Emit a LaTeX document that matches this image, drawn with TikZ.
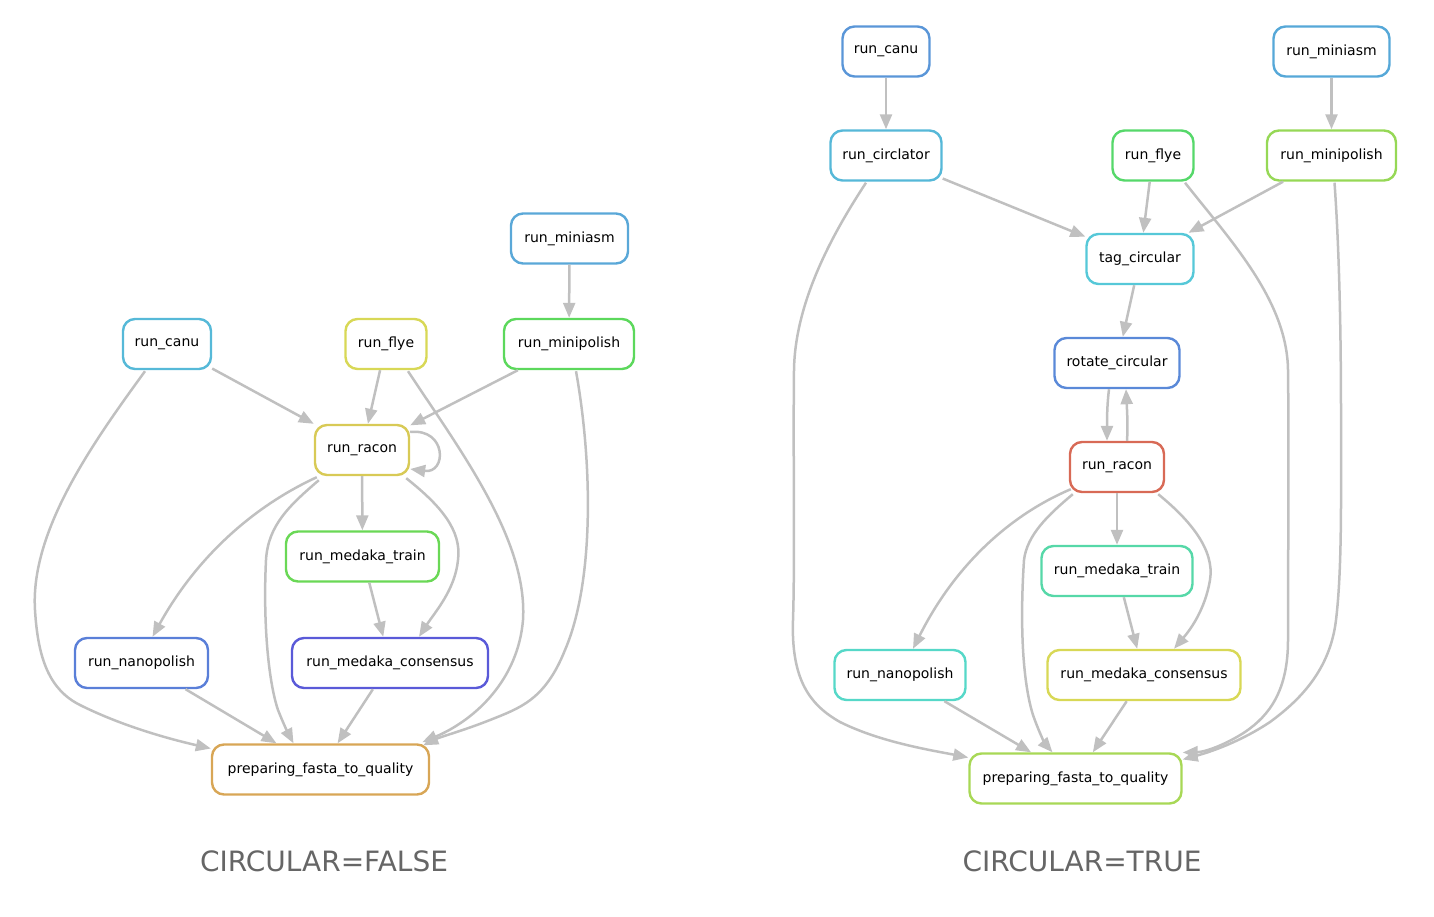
\documentclass[tikz,border=0pt]{standalone}
\usepackage{fontspec}
\setmainfont{DejaVu Sans}
\usetikzlibrary{arrows.meta,calc}
\definecolor{edgegray}{HTML}{C0C0C0}
\definecolor{titlegray}{HTML}{666666}
\definecolor{cA}{HTML}{5AA8D8}
\definecolor{cB}{HTML}{56B9D8}
\definecolor{cC}{HTML}{D8D856}
\definecolor{cD}{HTML}{5CD85C}
\definecolor{cE}{HTML}{D8CA56}
\definecolor{cF}{HTML}{6AD856}
\definecolor{cG}{HTML}{5A7FD8}
\definecolor{cH}{HTML}{5A5AD8}
\definecolor{cI}{HTML}{D8A656}
\definecolor{rA}{HTML}{5A96D8}
\definecolor{rB}{HTML}{56A8D8}
\definecolor{rC}{HTML}{56B8D8}
\definecolor{rD}{HTML}{56D86A}
\definecolor{rE}{HTML}{96D856}
\definecolor{rF}{HTML}{56C8D8}
\definecolor{rG}{HTML}{5A89D8}
\definecolor{rH}{HTML}{D86A56}
\definecolor{rI}{HTML}{56D8A8}
\definecolor{rJ}{HTML}{56D8C8}
\definecolor{rK}{HTML}{D8D856}
\definecolor{rL}{HTML}{A8D856}
\tikzset{
  box/.style={draw, line width=2.4pt, rounded corners=12pt, fill=white,
    minimum height=50pt, inner xsep=0pt, inner ysep=0pt,
    font=\fontsize{14}{16}\selectfont, text=black},
  edge/.style={draw=edgegray, line width=2.5pt, -{Triangle[length=15pt,width=12pt]}},
  title/.style={font=\fontsize{28}{32}\selectfont, text=titlegray}
}
\begin{document}
\begin{tikzpicture}[x=1pt,y=-1pt]
\useasboundingbox (0,0) rectangle (1434,917);
% ---------- left graph ----------
\node[box, draw=cA, minimum width=117pt] (lminiasm) at (569.5,238.5) {run\_miniasm};
\node[box, draw=cB, minimum width=88pt] (lcanu) at (167,344) {run\_canu};
\node[box, draw=cC, minimum width=81pt] (lflye) at (386,344) {run\_flye};
\node[box, draw=cD, minimum width=130pt] (lminipolish) at (569,344) {run\_minipolish};
\node[box, draw=cE, minimum width=94pt] (lracon) at (362,450) {run\_racon};
\node[box, draw=cF, minimum width=153pt] (lmtrain) at (362.5,556.5) {run\_medaka\_train};
\node[box, draw=cG, minimum width=133pt] (lnano) at (141.5,663) {run\_nanopolish};
\node[box, draw=cH, minimum width=196pt] (lcons) at (390,663) {run\_medaka\_consensus};
\node[box, draw=cI, minimum width=217pt] (lprep) at (320.5,769.5) {preparing\_fasta\_to\_quality};
\node[title] (ltitle) at (324,861) {CIRCULAR=FALSE};

\draw[edge] (lminiasm) -- (lminipolish);
\draw[edge] (lcanu) -- (lracon);
\draw[edge] (lflye) -- (lracon);
\draw[edge] (lminipolish) -- (lracon);
\draw[edge] (lracon) -- (lmtrain);
\draw[edge] (lmtrain) -- (lcons);
\draw[edge] (lnano) -- (lprep);
\draw[edge] (lcons) -- (lprep);
\draw[edge] ($(lracon.east)+(0,-18)$) .. controls (447,428) and (447,474) .. ($(lracon.east)+(0,19)$);
\draw[edge] ($(lcanu.south)+(-22,1)$) .. controls (95,440) and (30,530) .. (35,610)
  .. controls (38,660) and (50,690) .. (80,705)
  .. controls (120,725) and (165,738) .. ($(lprep.west)+(0,-21)$);
\draw[edge] ($(lflye.south)+(22,1)$) .. controls (460,450) and (528,540) .. (523,620)
  .. controls (518,680) and (475,720) .. ($(lprep.north east)+(-8,-1)$);
\draw[edge] ($(lminipolish.south)+(7,1)$) .. controls (592,460) and (595,580) .. (565,650)
  .. controls (545,700) and (520,708) .. (490,720)
  .. controls (465,730) and (440,737) .. ($(lprep.north east)+(-7,2)$);
\draw[edge] ($(lracon.south west)+(3,1)$) .. controls (250,508) and (195,560) .. ($(lnano.north)+(11,0)$);
\draw[edge] ($(lracon.south west)+(5,4)$) .. controls (290,505) and (268,525) .. (266,560)
  .. controls (263,620) and (268,680) .. (278,710)
  .. controls (284,725) and (288,733) .. ($(lprep.north)+(-27,0)$);
\draw[edge] ($(lracon.south east)+(-4,2)$) .. controls (440,505) and (462,530) .. (458,560)
  .. controls (455,590) and (435,612) .. ($(lcons.north)+(29,0)$);

% ---------- right graph ----------
\node[box, draw=rA, minimum width=87pt] (rcanu) at (886,51.5) {run\_canu};
\node[box, draw=rB, minimum width=116pt] (rminiasm) at (1331.5,51.5) {run\_miniasm};
\node[box, draw=rC, minimum width=111pt] (rcirc) at (886,155.5) {run\_circlator};
\node[box, draw=rD, minimum width=81pt] (rflye) at (1153,155.5) {run\_flye};
\node[box, draw=rE, minimum width=129pt] (rminipolish) at (1331.5,155.5) {run\_minipolish};
\node[box, draw=rF, minimum width=107pt] (rtag) at (1140,259) {tag\_circular};
\node[box, draw=rG, minimum width=125pt] (rrot) at (1117,363) {rotate\_circular};
\node[box, draw=rH, minimum width=94pt] (rracon) at (1117,467) {run\_racon};
\node[box, draw=rI, minimum width=151pt] (rmtrain) at (1117,571) {run\_medaka\_train};
\node[box, draw=rJ, minimum width=131pt] (rnano) at (900,675) {run\_nanopolish};
\node[box, draw=rK, minimum width=193pt] (rcons) at (1144,675) {run\_medaka\_consensus};
\node[box, draw=rL, minimum width=212pt] (rprep) at (1075.5,778.5) {preparing\_fasta\_to\_quality};
\node[title] (rtitle) at (1082,861) {CIRCULAR=TRUE};

\draw[edge] (rcanu) -- (rcirc);
\draw[edge] (rminiasm) -- (rminipolish);
\draw[edge] (rcirc) -- (rtag);
\draw[edge] (rflye) -- (rtag);
\draw[edge] (rminipolish) -- (rtag);
\draw[edge] (rtag) -- (rrot);
\draw[edge] (rracon) -- (rmtrain);
\draw[edge] (rmtrain) -- (rcons);
\draw[edge] (rnano) -- (rprep);
\draw[edge] (rcons) -- (rprep);
\draw[edge] ($(rrot.south)+(-8,0)$) .. controls (1107,405) and (1107,420) .. ($(rracon.north)+(-10,0)$);
\draw[edge] ($(rracon.north)+(10,0)$) .. controls (1128,425) and (1127,410) .. ($(rrot.south)+(9,0)$);
\draw[edge] ($(rcirc.south)+(-20,1)$) .. controls (835,230) and (795,300) .. (794,370)
  .. controls (793,450) and (795,560) .. (793,620)
  .. controls (791,680) and (810,705) .. (840,722)
  .. controls (880,742) and (930,750) .. ($(rprep.west)+(0,-21)$);
\draw[edge] ($(rflye.south)+(32,1)$) .. controls (1230,240) and (1287,300) .. (1288,370)
  .. controls (1289,450) and (1288,560) .. (1288,640)
  .. controls (1288,690) and (1270,715) .. (1245,732)
  .. controls (1225,745) and (1205,752) .. ($(rprep.east)+(0,-26)$);
\draw[edge] ($(rminipolish.south)+(3,1)$) .. controls (1340,260) and (1341,350) .. (1341,420)
  .. controls (1341,500) and (1342,570) .. (1336,620)
  .. controls (1330,670) and (1300,700) .. (1270,722)
  .. controls (1240,742) and (1210,752) .. ($(rprep.east)+(0,-19)$);
\draw[edge] ($(rracon.south west)+(2,-4)$) .. controls (1010,515) and (955,565) .. ($(rnano.north)+(13,0)$);
\draw[edge] ($(rracon.south west)+(4,1)$) .. controls (1048,515) and (1027,535) .. (1024,560)
  .. controls (1020,620) and (1022,680) .. (1033,715)
  .. controls (1040,735) and (1046,745) .. ($(rprep.north)+(-23,0)$);
\draw[edge] ($(rracon.south east)+(-7,1)$) .. controls (1190,520) and (1215,550) .. (1210,580)
  .. controls (1205,610) and (1190,630) .. ($(rcons.north)+(30,0)$);
\end{tikzpicture}
\end{document}
